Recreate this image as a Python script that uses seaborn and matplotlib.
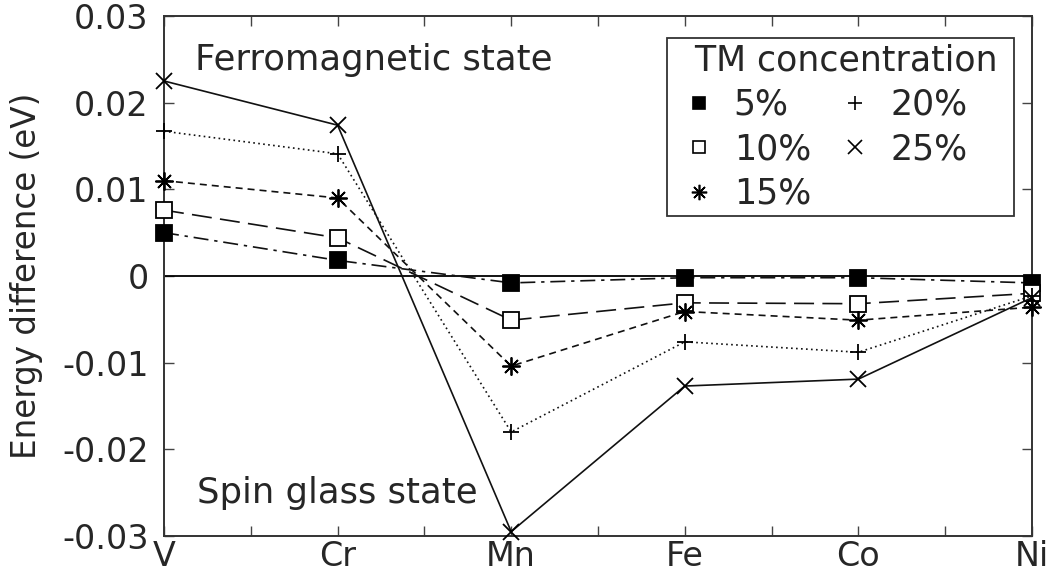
import matplotlib
matplotlib.use("Agg")
import matplotlib.pyplot as plt
from matplotlib.lines import Line2D
import seaborn as sns
import pandas as pd

# Transition-metal dopants along the x axis
elements = ["V", "Cr", "Mn", "Fe", "Co", "Ni"]

# Energy difference (eV) between ferromagnetic and spin glass states
e_5 = [0.0050, 0.0018, -0.0008, -0.0002, -0.0002, -0.0008]
e_10 = [0.0076, 0.0044, -0.0051, -0.0031, -0.0032, -0.0020]
e_15 = [0.0110, 0.0090, -0.0104, -0.0041, -0.0051, -0.0036]
e_20 = [0.0167, 0.0141, -0.0180, -0.0076, -0.0088, -0.0023]
e_25 = [0.0225, 0.0174, -0.0295, -0.0127, -0.0119, -0.0025]

labels = ["5%", "10%", "15%", "20%", "25%"]
values = [e_5, e_10, e_15, e_20, e_25]

sns.set_theme(style="ticks")
plt.rcParams["font.family"] = ["DejaVu Sans"]

LW = 1.2
styles = {
    "5%": dict(marker="s", mfc="black", dashes=(9, 3.5, 2, 3.5), ms=11),
    "10%": dict(marker="s", mfc="white", dashes=(12, 5), ms=11),
    "15%": dict(marker=(8, 2, 0), mfc="black", dashes=(4.2, 3), ms=13),
    "20%": dict(marker="+", mfc="black", dashes=(1, 2), ms=12),
    "25%": dict(marker="x", mfc="black", dashes=None, ms=12),
}

rows = []
for lab, vals in zip(labels, values):
    for i, v in enumerate(vals):
        rows.append({"pos": i, "energy": v, "conc": lab})
df = pd.DataFrame(rows)

fig, ax = plt.subplots(figsize=(10.58, 5.81), dpi=100)
fig.subplots_adjust(left=0.155, right=0.9754, top=0.9725, bottom=0.0775)

ax.axhline(0, color="black", lw=1.3, zorder=1)

handles = []
for lab in labels:
    st = styles[lab]
    sub = df[df["conc"] == lab]
    sns.lineplot(data=sub, x="pos", y="energy", ax=ax, color="#111111",
                 lw=LW, marker=st["marker"], markersize=st["ms"],
                 markerfacecolor=st["mfc"], markeredgecolor="black",
                 markeredgewidth=1.3, zorder=3, clip_on=False, legend=False)
    line = ax.get_lines()[-1]
    if st["dashes"] is None:
        line.set_linestyle("-")
    else:
        line.set_dashes(st["dashes"])
    handles.append(Line2D([], [], linestyle="none", marker=st["marker"],
                          markersize=st["ms"] * 0.85, markerfacecolor=st["mfc"],
                          markeredgecolor="black", markeredgewidth=1.2))

ax.set_xlim(0, 5)
ax.set_ylim(-0.03, 0.03)
ax.set_xticks(range(len(elements)))
ax.set_xticklabels(elements)
ax.set_xticks([i + 0.5 for i in range(len(elements) - 1)], minor=True)
ax.set_yticks([-0.03, -0.02, -0.01, 0, 0.01, 0.02, 0.03])
ax.set_yticklabels(["-0.03", "-0.02", "-0.01", "0", "0.01", "0.02", "0.03"])
ax.tick_params(axis="both", which="both", direction="in", top=True, right=True,
               length=7, width=1, color="#444444", labelsize=24)
ax.tick_params(axis="y", pad=11)
ax.tick_params(axis="x", pad=3)
ax.set_xlabel("")
ax.set_ylabel("Energy difference (eV)", fontsize=23.5, labelpad=14)
for sp in ax.spines.values():
    sp.set_color("#333333")
    sp.set_linewidth(1.4)

ax.text(0.18, 0.0238, "Ferromagnetic state", fontsize=25.5, va="baseline", ha="left")
ax.text(0.19, -0.0262, "Spin glass state", fontsize=25.5, va="baseline", ha="left")

leg = ax.legend(handles, labels, title="  TM concentration ", ncol=2,
                loc="upper left", bbox_to_anchor=((667 - 164) / 868, 0.9577),
                borderaxespad=0, fontsize=25, title_fontsize=25,
                frameon=True, fancybox=False, edgecolor="black",
                handlelength=1.5, handletextpad=0.26, columnspacing=0.52,
                labelspacing=0.3, borderpad=0.16, alignment="left")
leg.get_frame().set_linewidth(1.3)

fig.savefig("out.png", dpi=100)
